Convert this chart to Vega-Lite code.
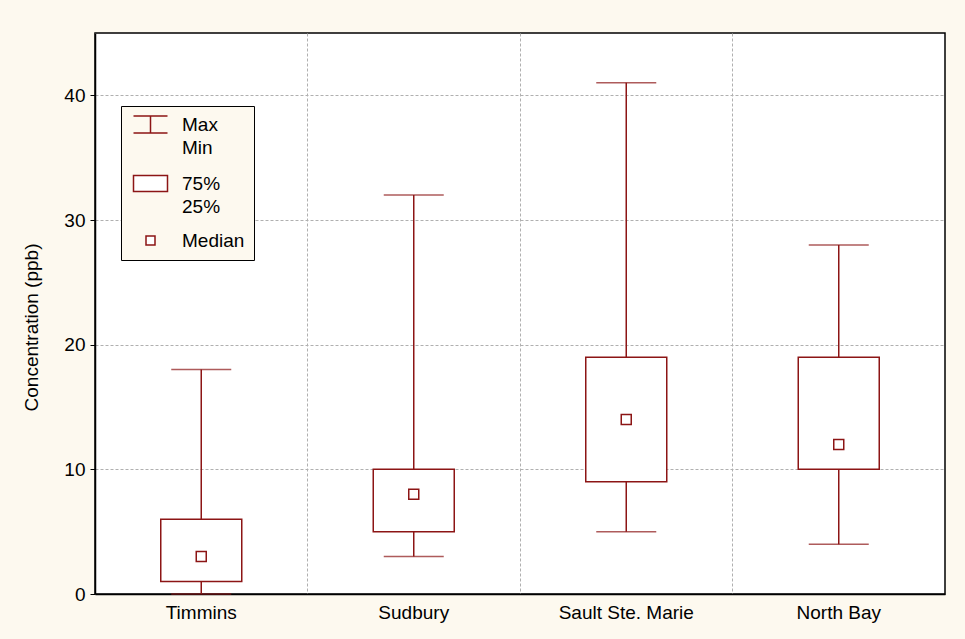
{
  "$schema": "https://vega.github.io/schema/vega-lite/v6.json",
  "width": 850,
  "height": 561,
  "autosize": {"type": "none"},
  "padding": {"left": 95, "top": 33, "right": 20, "bottom": 45},
  "background": "#fdf9ef",
  "config": {
    "font": "Liberation Sans",
    "view": {"stroke": "#000000", "strokeWidth": 1.5, "fill": "white"},
    "axis": {
      "labelFontSize": 19,
      "labelColor": "#000000",
      "titleFontSize": 19,
      "titleFontWeight": "normal",
      "titleColor": "#000000",
      "domainColor": "#000000",
      "domainWidth": 1.5,
      "tickColor": "#000000",
      "gridColor": "#b0b0b0",
      "gridDash": [3, 2],
      "gridWidth": 1
    },
    "style": {"guide-label": {"lineHeight": 23}}
  },
  "data": {
    "values": [
      {"site": "Timmins", "min": 0, "q1": 1, "median": 3, "q3": 6, "max": 18, "legend": "Median"},
      {"site": "Sudbury", "min": 3, "q1": 5, "median": 8, "q3": 10, "max": 32, "legend": "Median"},
      {"site": "Sault Ste. Marie", "min": 5, "q1": 9, "median": 14, "q3": 19, "max": 41, "legend": "Median"},
      {"site": "North Bay", "min": 4, "q1": 10, "median": 12, "q3": 19, "max": 28, "legend": "Median"}
    ]
  },
  "encoding": {
    "x": {
      "field": "site",
      "type": "nominal",
      "sort": null,
      "scale": {"paddingInner": 0, "paddingOuter": 0},
      "axis": {
        "title": null,
        "labelAngle": 0,
        "ticks": false,
        "grid": true,
        "bandPosition": 0,
        "labelPadding": 9
      }
    }
  },
  "layer": [
    {
      "mark": {"type": "rule", "color": "#8c1515", "strokeWidth": 1.5},
      "encoding": {
        "y": {
          "field": "min",
          "type": "quantitative",
          "scale": {"domain": [0, 45], "nice": false, "zero": true},
          "axis": {
            "title": "Concentration (ppb)",
            "values": [0, 10, 20, 30, 40],
            "tickSize": 5,
            "labelPadding": 5,
            "titlePadding": 22,
            "titleY": 294
          }
        },
        "y2": {"field": "max"}
      }
    },
    {
      "mark": {"type": "tick", "orient": "horizontal", "size": 60, "thickness": 1.5, "color": "#8c1515"},
      "encoding": {"y": {"field": "min", "type": "quantitative"}}
    },
    {
      "mark": {"type": "tick", "orient": "horizontal", "size": 60, "thickness": 1.5, "color": "#8c1515"},
      "encoding": {"y": {"field": "max", "type": "quantitative"}}
    },
    {
      "mark": {"type": "bar", "size": 81, "fill": "white", "stroke": "#8c1515", "strokeWidth": 1.5},
      "encoding": {"y": {"field": "q1", "type": "quantitative"}, "y2": {"field": "q3"}}
    },
    {
      "mark": {"type": "point", "filled": true, "fill": "white", "stroke": "#8c1515", "strokeWidth": 1.5, "size": 79, "opacity": 1},
      "encoding": {
        "y": {"field": "median", "type": "quantitative"},
        "shape": {
          "field": "legend",
          "type": "nominal",
          "scale": {
            "domain": ["Max|Min", "75%|25%", "Median"],
            "range": [
              "M-4.25,-2.125H4.25M0,-2.125V2.125M-4.25,2.125H4.25",
              "M-4.25,-2H4.25V2H-4.25Z",
              "M-1.125,-1.125H1.125V1.125H-1.125Z"
            ]
          },
          "legend": {
            "orient": "none",
            "legendX": 26,
            "legendY": 73,
            "title": null,
            "fillColor": "#fdf9ef",
            "strokeColor": "#000000",
            "padding": 9,
            "labelFontSize": 19,
            "labelColor": "#000000",
            "labelExpr": "split(datum.label, '|')",
            "symbolSize": 64,
            "symbolOffset": 11,
            "symbolOpacity": 1,
            "rowPadding": 14,
            "labelOffset": 22,
            "encode": {
              "symbols": {
                "update": {
                  "stroke": {"value": "#8c1515"},
                  "strokeWidth": {"value": 1.5},
                  "fill": {"value": "white"},
                  "opacity": {"value": 1}
                }
              }
            }
          }
        }
      }
    }
  ]
}
